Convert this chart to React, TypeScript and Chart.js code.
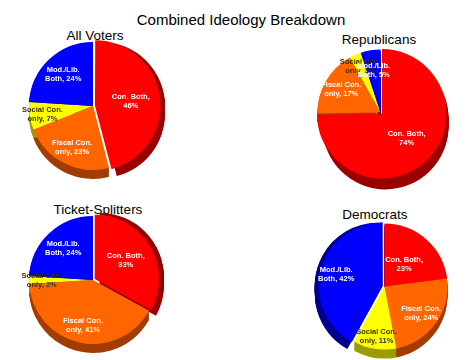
import React, { useEffect, useRef } from "react";
import { Chart, ArcElement, PieController } from "chart.js";

Chart.register(ArcElement, PieController);

const categories = ["Con. Both", "Fiscal Con. only", "Social Con. only", "Mod./Lib. Both"];
const allVoters = [46, 23, 7, 24];
const republicans = [74, 17, 3, 5];
const ticketSplitters = [33, 41, 2, 24];
const democrats = [23, 24, 11, 42];
const labelFirstLines = ["Con. Both,", "Fiscal Con.", "Social Con.", "Mod./Lib."];
const labelSecondPrefix = ["", "only, ", "only, ", "Both, "];

const topColors = ["#ff0000", "#ff6600", "#ffff00", "#0000ff"];
const sideColors = ["#9a0000", "#a33c00", "#9c9c00", "#00008c"];
const textColors = ["#ffffff", "#ffffff", "#333300", "#ffffff"];
const labelFrac = [0.47, 0.72, 0.8, 0.68];

const FONT = "'Liberation Sans', Arial, Helvetica, sans-serif";
const DEPTH = 9;
const PAD = 10;

type Panel = {
  title: string;
  data: number[];
  exploded: number;
  cx: number;
  cy: number;
  r: number;
  off: number;
  tx: number;
  ty: number;
};

const panels: Panel[] = [
  { title: "All Voters", data: allVoters, exploded: 0, cx: 93, cy: 106, r: 64, off: 8, tx: 95, ty: 37 },
  { title: "Republicans", data: republicans, exploded: 0, cx: 380, cy: 112, r: 63, off: 7, tx: 379, ty: 41 },
  { title: "Ticket-Splitters", data: ticketSplitters, exploded: 0, cx: 93, cy: 280, r: 64, off: 8, tx: 98, ty: 211 },
  { title: "Democrats", data: democrats, exploded: 3, cx: 384, cy: 286, r: 63, off: 7, tx: 375, ty: 216 },
];

const depthPlugin = {
  id: "depth3d",
  beforeDatasetsDraw(chart: any) {
    const ctx = chart.ctx;
    const meta = chart.getDatasetMeta(0);
    ctx.save();
    meta.data.forEach((arc: any, i: number) => {
      const { x, y, startAngle, endAngle, outerRadius } = arc.getProps(["x", "y", "startAngle", "endAngle", "outerRadius"]);
      const off = arc.options.offset || 0;
      const mid = (startAngle + endAngle) / 2;
      const ox = x + Math.cos(mid) * off;
      const oy = y + Math.sin(mid) * off;
      ctx.fillStyle = sideColors[i];
      for (let d = DEPTH; d >= 1; d--) {
        ctx.beginPath();
        ctx.moveTo(ox, oy + d);
        ctx.arc(ox, oy + d, outerRadius, startAngle, endAngle);
        ctx.closePath();
        ctx.fill();
      }
    });
    ctx.restore();
  },
};

const labelPlugin = {
  id: "sliceLabels",
  afterDatasetsDraw(chart: any) {
    const ctx = chart.ctx;
    const meta = chart.getDatasetMeta(0);
    const values = chart.data.datasets[0].data as number[];
    ctx.save();
    ctx.font = `bold 7.5px ${FONT}`;
    ctx.textAlign = "center";
    ctx.textBaseline = "middle";
    meta.data.forEach((arc: any, i: number) => {
      const { x, y, startAngle, endAngle, outerRadius } = arc.getProps(["x", "y", "startAngle", "endAngle", "outerRadius"]);
      const off = arc.options.offset || 0;
      const mid = (startAngle + endAngle) / 2;
      const d = off + outerRadius * labelFrac[i];
      const lx = x + Math.cos(mid) * d;
      const ly = y + Math.sin(mid) * d;
      ctx.fillStyle = textColors[i];
      ctx.fillText(labelFirstLines[i], lx, ly - 4.5);
      ctx.fillText(`${labelSecondPrefix[i]}${values[i]}%`, lx, ly + 4.5);
    });
    ctx.restore();
  },
};

function PieCanvas({ p }: { p: Panel }) {
  const ref = useRef<HTMLCanvasElement | null>(null);
  const size = 2 * p.r + p.off + 2 * PAD;
  const w = size;
  const h = size + DEPTH;
  const left = p.cx - p.r - p.off / 2 - PAD;
  const top = p.cy - p.r - p.off / 2 - PAD;

  useEffect(() => {
    if (!ref.current) return;
    const chart = new Chart(ref.current, {
      type: "pie",
      data: {
        labels: categories,
        datasets: [
          {
            data: p.data,
            backgroundColor: topColors,
            borderWidth: 0,
            offset: p.data.map((_, i) => (i === p.exploded ? p.off : 0)),
          },
        ],
      },
      options: {
        responsive: false,
        maintainAspectRatio: false,
        animation: false,
        events: [],
        layout: { padding: { left: PAD, right: PAD, top: PAD, bottom: PAD + DEPTH } },
        plugins: { legend: { display: false }, tooltip: { enabled: false } } as any,
      },
      plugins: [depthPlugin, labelPlugin],
    });
    return () => chart.destroy();
  }, []);

  return (
    <canvas
      ref={ref}
      width={w}
      height={h}
      style={{ position: "absolute", left, top, width: w, height: h }}
    />
  );
}

function Title({ text, x, y, size }: { text: string; x: number; y: number; size: number }) {
  return (
    <div
      style={{
        position: "absolute",
        left: x - 150,
        top: y - size / 2 - 1,
        width: 300,
        textAlign: "center",
        fontFamily: FONT,
        fontSize: size,
        lineHeight: `${size}px`,
        color: "#000",
        whiteSpace: "nowrap",
      }}
    >
      {text}
    </div>
  );
}

export default function App() {
  return (
    <div
      style={{
        position: "fixed",
        left: 0,
        top: 0,
        width: 475,
        height: 360,
        background: "#ffffff",
        overflow: "hidden",
      }}
    >
      <Title text="Combined Ideology Breakdown" x={241} y={20} size={15} />
      {panels.map((p) => (
        <React.Fragment key={p.title}>
          <Title text={p.title} x={p.tx} y={p.ty} size={13.5} />
          <PieCanvas p={p} />
        </React.Fragment>
      ))}
    </div>
  );
}
